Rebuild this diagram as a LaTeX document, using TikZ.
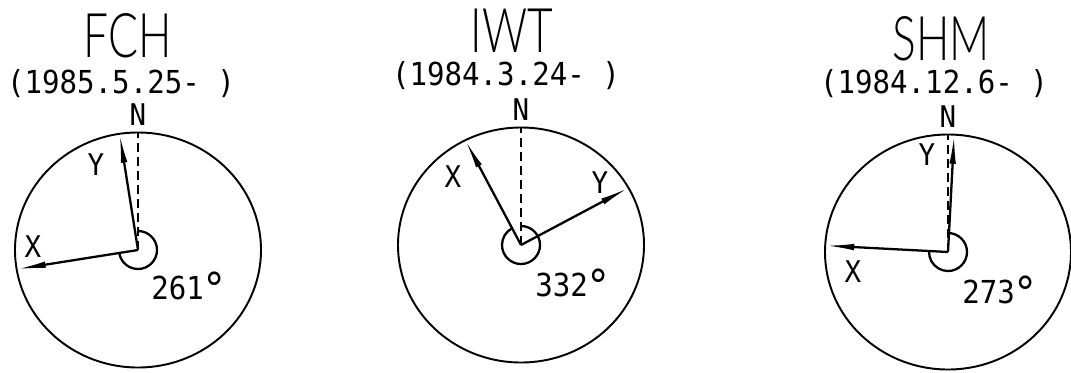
\documentclass[tikz,border=0pt]{standalone}
\usepackage{fontspec}
\usepackage{tikz}
\usetikzlibrary{arrows.meta, positioning, shapes.geometric, calc}
\newfontfamily\titlefont[FakeStretch=0.72]{Lato Light}
\newfontfamily\plotfont[FakeStretch=0.92]{DejaVu Sans Mono}
\newcommand{\dgr}{\kern-1pt{\fontsize{25}{25}\selectfont\raisebox{-2.5pt}{°}}}

\begin{document}
\begin{tikzpicture}[
  every node/.style={inner sep=0pt, font=\plotfont\fontsize{18}{20}\selectfont},
  dial/.style={draw, ellipse, line width=1.1pt, minimum width=4.92cm,
               minimum height=4.7cm},
  axis/.style={-{Latex[length=0.6cm, width=0.13cm]}, line width=1.3pt},
  northline/.style={dash pattern=on 5pt off 3pt, line width=0.7pt},
  turn/.style={line width=1.3pt},
  station/.style={font=\titlefont\fontsize{35}{38}\selectfont},
  period/.style={font=\plotfont\fontsize{18}{20}\selectfont},
  axlabel/.style={font=\plotfont\fontsize{17}{19}\selectfont}
]
\useasboundingbox (0,0) rectangle (21.42,7.44);

% FCH
\coordinate (fch) at (2.76,2.44);
\node[dial] (fchring) at (fch) {};
\node[station] (fchname) at (2.56,6.72) {FCH};
\node[period] (fchdate) at (2.42,5.77) {(1985.5.25- )};
\node[axlabel, above=0.12cm of fchring.north] (fchN) {N};
\draw[northline] (fch) -- (fchring.north);
\draw[axis] (fch) -- (fchring.-171);
\draw[axis] (fch) -- (fchring.99);
\draw[turn] ([yshift=0.38cm]fch) arc[start angle=90, end angle=-171, radius=0.38cm];
\node[axlabel] (fchX) at (0.66,2.5) {X};
\node[axlabel] (fchY) at (1.92,4.14) {Y};
\node (fchdeg) at (3.78,1.68) {261\dgr};

% IWT
\coordinate (iwt) at (10.42,2.54);
\node[dial] (iwtring) at (iwt) {};
\node[station] (iwtname) at (10.24,6.82) {IWT};
\node[period] (iwtdate) at (10.12,5.92) {(1984.3.24- )};
\node[axlabel, above=0.12cm of iwtring.north] (iwtN) {N};
\draw[northline] (iwt) -- (iwtring.north);
\draw[axis] (iwt) -- (iwtring.118);
\draw[axis] (iwt) -- (iwtring.28);
\draw[turn] ([yshift=0.38cm]iwt) arc[start angle=90, end angle=-242, radius=0.38cm];
\node[axlabel] (iwtX) at (9.06,3.9) {X};
\node[axlabel] (iwtY) at (12.0,3.78) {Y};
\node (iwtdeg) at (11.46,1.74) {332\dgr};

% SHM
\coordinate (shm) at (18.96,2.40);
\node[dial] (shmring) at (shm) {};
\node[station] (shmname) at (18.82,6.67) {SHM};
\node[period] (shmdate) at (18.68,5.76) {(1984.12.6- )};
\node[axlabel, above=0.12cm of shmring.north] (shmN) {N};
\draw[northline] (shm) -- (shmring.north);
\draw[axis] (shm) -- (shmring.-183);
\draw[axis] (shm) -- (shmring.87);
\draw[turn] ([yshift=0.38cm]shm) arc[start angle=90, end angle=-183, radius=0.38cm];
\node[axlabel] (shmX) at (17.06,2.0) {X};
\node[axlabel] (shmY) at (18.54,4.34) {Y};
\node (shmdeg) at (20.0,1.6) {273\dgr};

\end{tikzpicture}
\end{document}
